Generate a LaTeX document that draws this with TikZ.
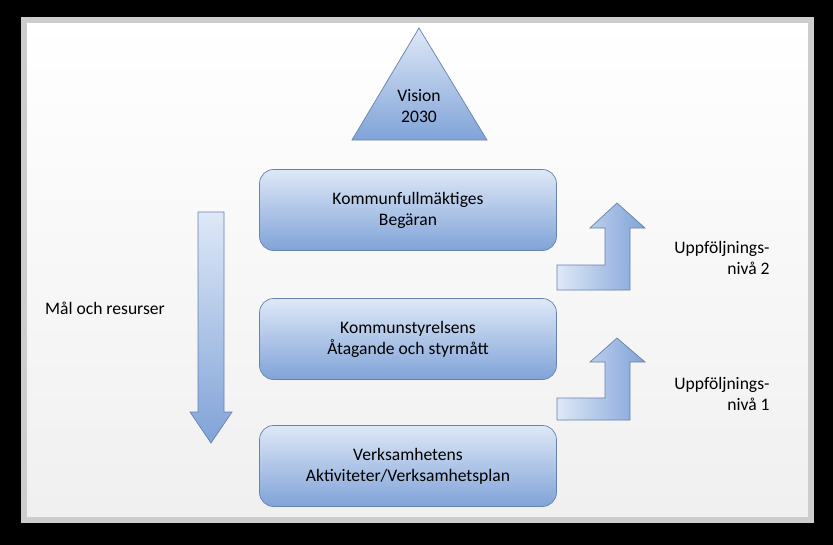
\documentclass[tikz,border=0pt]{standalone}
\usepackage{fontspec}
\setmainfont{Carlito}
\usetikzlibrary{shapes.geometric}
\definecolor{bluelight}{RGB}{222,232,247}
\definecolor{bluedark}{RGB}{128,163,216}
\definecolor{bordergray}{RGB}{205,205,205}
\tikzset{
  stagebox/.style={draw=bluedark!80!black,rounded corners=8pt,top color=bluelight,bottom color=bluedark,
    minimum width=5.94cm,minimum height=1.62cm,align=center,font=\fontsize{10}{12}\selectfont},
  shadedarrow/.style={draw=bluedark!80!black,left color=bluelight,right color=bluedark},
  label/.style={align=right,font=\fontsize{10}{12}\selectfont}
}
\begin{document}
\begin{tikzpicture}[x=0.02cm,y=-0.02cm]
  \fill[black] (0,0) rectangle (833,545);
  \draw[line width=3pt,bordergray,top color=white,bottom color=gray!12] (24,20) rectangle (811,520);

  \draw[stagebox,rounded corners=0pt] (419,28) -- (487,140) -- (352,140) -- cycle;
  \node[align=center,font=\fontsize{10}{12}\selectfont] (vision) at (419,106) {Vision\\2030};

  \node[stagebox] (begaran) at (408,210) {Kommunfullmäktiges\\Begäran};
  \node[stagebox] (atagande) at (408,339) {Kommunstyrelsens\\Åtagande och styrmått};
  \node[stagebox] (aktiviteter) at (408,466) {Verksamhetens\\Aktiviteter/Verksamhetsplan};

  % resource arrow
  \draw[shadedarrow,top color=bluelight,bottom color=bluedark] (198,212) -- (224,212) -- (224,412) -- (232,412)
    -- (211,443) -- (190,412) -- (198,412) -- cycle;
  \node[label] (resurser) at (105,308) {Mål och resurser};

  % follow-up arrows
  \draw[shadedarrow] (557,265) -- (605,265) -- (605,228) -- (590,228) -- (617,203) -- (645,228)
    -- (630,228) -- (630,290) -- (557,290) -- cycle;
  \draw[shadedarrow] (557,398) -- (605,398) -- (605,362) -- (590,362) -- (617,338) -- (645,362)
    -- (630,362) -- (630,420) -- (557,420) -- cycle;
  \node[label] (niva2) at (722,258) {Uppföljnings-\\nivå 2};
  \node[label] (niva1) at (722,394) {Uppföljnings-\\nivå 1};
\end{tikzpicture}
\end{document}
